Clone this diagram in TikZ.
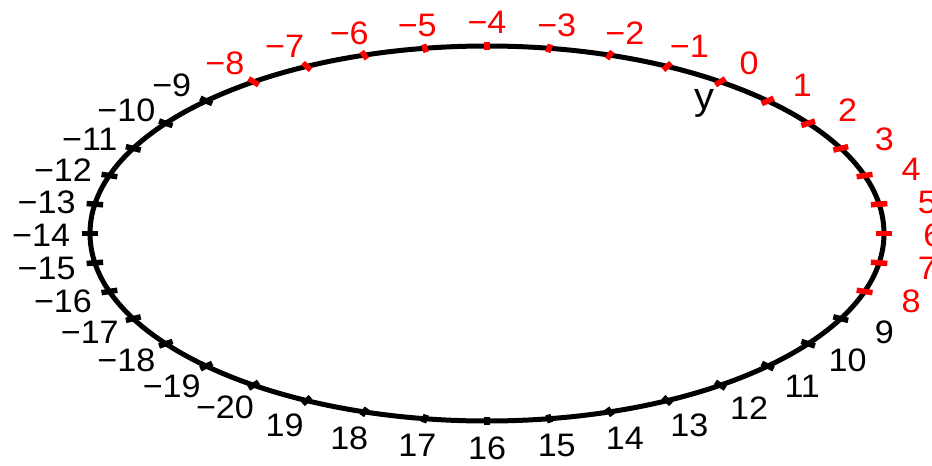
\documentclass[tikz,border=0pt]{standalone}
\usepackage{fontspec}
\setmainfont{Liberation Sans}[FakeStretch=1.05]
\begin{document}
\begin{tikzpicture}[
    x=1pt, y=-1pt,
    rim/.style={line width=5pt},
    tickmark/.style={line width=5.5pt},
    ticklab/.style={inner sep=0pt, yshift=-2pt, font=\fontsize{32.5}{39}\selectfont},
    varlab/.style={inner sep=0pt, font=\fontsize{38}{45}\selectfont}
]
\useasboundingbox (0,0) rectangle (932,466);
\draw[rim] (487,233.5) ellipse [x radius=397pt, y radius=187.5pt];
\begin{scope}[shift={(487,233.5)}, x=397pt, y=187.5pt]
\foreach \k in {-20,...,19}{
  \pgfmathsetmacro\t{90-(\k+4)*9}
  \pgfmathtruncatemacro\m{abs(\k)}
  \def\col{black}
  \ifnum\k>-9 \ifnum\k<9 \def\col{red}\fi\fi
  \draw[tickmark, draw=\col] ({0.979*cos(\t)},{0.979*sin(\t)}) -- ({1.021*cos(\t)},{1.021*sin(\t)});
  \node[ticklab, text=\col] (lab\k) at ({1.123*cos(\t)},{1.135*sin(\t)}) {\ifnum\k<0 −\fi\m};
}
\end{scope}
\node[varlab] (yvar) at (704,103) {y};
\end{tikzpicture}
\end{document}
